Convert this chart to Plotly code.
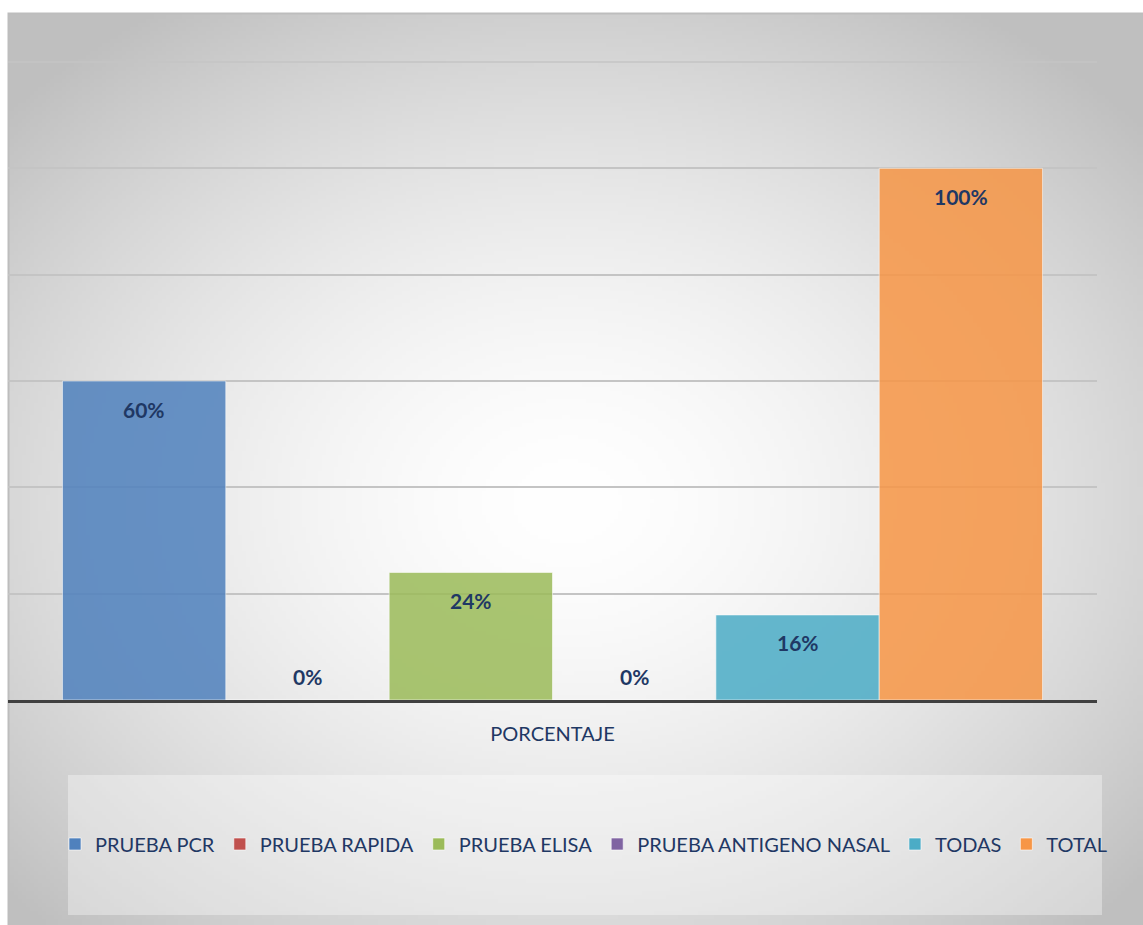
import base64, struct, zlib
import numpy as np
import plotly.graph_objects as go

categories = ["PORCENTAJE"]
series_names = ["PRUEBA PCR", "PRUEBA RAPIDA", "PRUEBA ELISA",
                "PRUEBA ANTIGENO NASAL", "TODAS", "TOTAL"]
series_values = [0.60, 0.0, 0.24, 0.0, 0.16, 1.00]
series_colors = ["#4F81BD", "#C0504D", "#9BBB59", "#8064A2", "#4BACC6", "#F79646"]

NAVY = "#1F3864"
FONT = "Lato, 'Open Sans', sans-serif"

W, H = 1143, 925
ML, MR, MT, MB = 8, W - 1097, 62, H - 700
PW, PH = W - ML - MR, H - MT - MB


def png_data_uri(arr):
    h, w = arr.shape
    raw = b"".join(b"\x00" + bytes(arr[r].astype(np.uint8)) for r in range(h))
    def chunk(t, d):
        c = struct.pack(">I", len(d)) + t + d
        return c + struct.pack(">I", zlib.crc32(t + d) & 0xFFFFFFFF)
    png = b"\x89PNG\r\n\x1a\n"
    png += chunk(b"IHDR", struct.pack(">IIBBBBB", w, h, 8, 0, 0, 0, 0))
    png += chunk(b"IDAT", zlib.compress(raw, 9))
    png += chunk(b"IEND", b"")
    return "data:image/png;base64," + base64.b64encode(png).decode()


# radial background gradient (chart area from x=8,y=13 to the page edge)
gw, gh = 1135, 912
sx, sy = 4, 4
xs = np.arange(0, gw, sx) + 8
ys = np.arange(0, gh, sy) + 13
X, Y = np.meshgrid(xs, ys)
d = np.sqrt(((X - 565) / 760.0) ** 2 + ((Y - 500) / 590.0) ** 2)
val = 255 - 64 * np.clip(d, 0, 1) ** 1.6
bg_uri = png_data_uri(val)

fig = go.Figure()
for name, v, c in zip(series_names, series_values, series_colors):
    fig.add_trace(go.Bar(
        x=categories, y=[v], name=name,
        marker=dict(color=c, opacity=0.85,
                    line=dict(color="rgba(255,255,255,0.6)", width=1)),
        hoverinfo="name+y",
    ))

n = len(series_values)
bargap = 0.1
bw = (1 - bargap) / n
annotations = []
for i, v in enumerate(series_values):
    xc = -(1 - bargap) / 2 + bw * (i + 0.5)
    annotations.append(dict(
        x=xc, y=v, xref="x", yref="y", text=f"{v*100:.0f}%",
        showarrow=False, yanchor="middle", xanchor="center",
        yshift=(-28 if v > 0 else 24),
        font=dict(family=FONT, size=21, color=NAVY, weight="bold"),
    ))

px2x = lambda p: (p - ML) / PW
px2y = lambda p: (MT + PH - p) / PH

fig.update_layout(
    width=W, height=H,
    margin=dict(l=ML, r=MR, t=MT, b=MB, pad=0),
    paper_bgcolor="white", plot_bgcolor="rgba(0,0,0,0)",
    barmode="group", bargap=bargap, bargroupgap=0,
    font=dict(family=FONT, color=NAVY),
    images=[dict(source=bg_uri, xref="paper", yref="paper",
                 x=px2x(8), y=px2y(13), sizex=gw / PW, sizey=gh / PH,
                 xanchor="left", yanchor="top", sizing="stretch",
                 layer="below")],
    shapes=[
        dict(type="rect", xref="paper", yref="paper", layer="below",
             x0=px2x(68), x1=px2x(1102), y0=px2y(915), y1=px2y(775),
             fillcolor="rgba(255,255,255,0.35)", line=dict(width=0)),
        dict(type="rect", xref="paper", yref="paper", layer="below",
             x0=px2x(8.5), x1=px2x(1160), y0=px2y(940), y1=px2y(13.5),
             fillcolor="rgba(0,0,0,0)", line=dict(color="#BDBDBD", width=2)),
        # top gridline (120%) which plotly omits at the range edge
        dict(type="line", xref="paper", yref="paper", layer="above",
             x0=0, x1=1, y0=1, y1=1,
             line=dict(color="#C4C4C4", width=1.5)),
    ],
    xaxis=dict(showgrid=False, showline=True, linecolor="#404040", linewidth=3,
               ticks="", ticklabelstandoff=14,
               tickfont=dict(family=FONT, size=20, color=NAVY),
               fixedrange=True),
    yaxis=dict(range=[0, 1.2], dtick=0.2, showticklabels=False,
               showgrid=True, gridcolor="#C4C4C4", gridwidth=1.5,
               zeroline=False, showline=False, fixedrange=True),
    legend=dict(orientation="h", x=px2x(584), xanchor="center",
                y=px2y(844), yanchor="middle",
                bgcolor="rgba(0,0,0,0)",
                font=dict(family=FONT, size=20, color=NAVY),
                itemwidth=30, traceorder="normal"),
    annotations=annotations,
    showlegend=True,
)

fig.write_html("out.html", post_script="document.body.style.margin='0';",
               config={"displayModeBar": False})
